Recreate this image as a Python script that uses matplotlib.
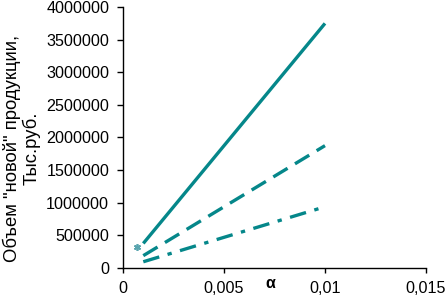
import matplotlib
matplotlib.use("Agg")
import matplotlib.pyplot as plt

plt.rcParams['font.family'] = ['Liberation Sans', 'DejaVu Sans']

alpha = [0.001, 0.01]
solid = [375000, 3750000]
dashed = [187500, 1875000]
dashdot = [93750, 937500]
marker_x = [0.0007]
marker_y = [320000]
xticks = [0, 0.005, 0.01, 0.015]
xticklabels = ["0", "0,005", "0,01", "0,015"]
yticks = list(range(0, 4000001, 500000))

teal = "#05878A"
fig = plt.figure(figsize=(4.46, 2.96), dpi=100)
ax = fig.add_axes([0.276, 0.095, 0.679, 0.881])

ax.plot(alpha, solid, color=teal, lw=2.4, solid_capstyle='butt')
ax.plot(alpha, dashed, color=teal, lw=2.4, dashes=(5, 2.6))
ax.plot(alpha, dashdot, color=teal, lw=2.4, dashes=(5, 2.6, 1.3, 2.6))
ax.plot(marker_x, marker_y, marker=(6, 2, 0), color="#5AA5AF", ms=5, mew=1.2, ls='none')

ax.set_xlim(0, 0.015)
ax.set_ylim(0, 4000000)
ax.set_xticks(xticks)
ax.set_xticklabels(xticklabels)
ax.set_yticks(yticks)
ax.set_yticklabels([str(v) for v in yticks])
for s in ['top', 'right']:
    ax.spines[s].set_visible(False)
for s in ['left', 'bottom']:
    ax.spines[s].set_color('black')
    ax.spines[s].set_linewidth(1.0)
ax.tick_params(axis='both', labelsize=11.6, width=1, direction='out', colors='black')
ax.tick_params(axis='y', pad=5.5, length=4.5)
ax.tick_params(axis='x', pad=6, length=3.6)

fig.text(0.049, 0.5, 'Объем "новой" продукции,\nТыс.руб.', fontsize=13.3,
         rotation=90, ha='center', va='center', multialignment='center', linespacing=1.1)
fig.text(0.605, 0.018, 'α', fontsize=11.5, fontweight='bold', ha='center', va='bottom')

fig.savefig("out.png", dpi=100)
